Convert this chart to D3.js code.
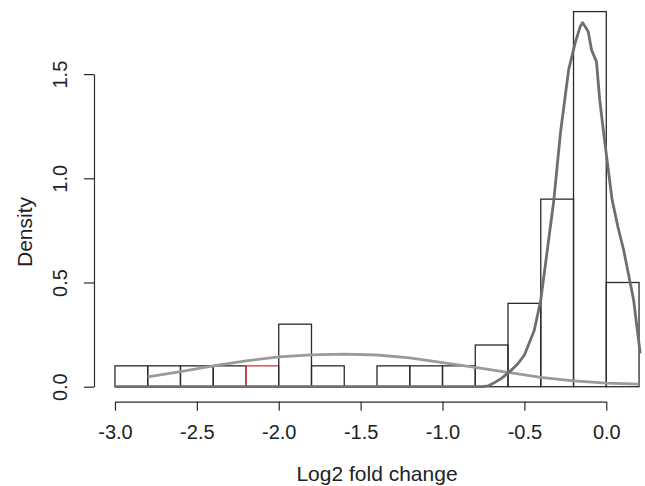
<!DOCTYPE html>
<html>
<head>
<meta charset="utf-8">
<title>Log2 fold change density</title>
<style>
  body { margin: 0; background: #fff; }
  text { font-family: "Liberation Sans", Arial, Helvetica, sans-serif; fill: #222; }
</style>
</head>
<body>
<script src="https://cdn.jsdelivr.net/npm/d3@7/dist/d3.min.js"></script>
<script>
  // histogram bins (left edges, width 0.2) and densities
  var binStarts = [-3.0, -2.8, -2.6, -2.4, -2.2, -2.0, -1.8, -1.6, -1.4, -1.2, -1.0, -0.8, -0.6, -0.4, -0.2, 0.0];
  var binDensity = [0.1, 0.1, 0.1, 0.1, 0.1, 0.3, 0.1, 0, 0.1, 0.1, 0.1, 0.2, 0.4, 0.9, 1.8, 0.5];
  var highlightBin = -2.2;
  var binWidth = 0.2;

  // broad fitted curve
  var broadX = [-2.8, -2.6, -2.4, -2.2, -2.0, -1.8, -1.6, -1.4, -1.2, -1.0, -0.8, -0.6, -0.4, -0.2, 0.0, 0.2];
  var broadY = [0.047, 0.072, 0.100, 0.124, 0.143, 0.153, 0.156, 0.152, 0.138, 0.116, 0.093, 0.069, 0.045, 0.028, 0.017, 0.012];

  // narrow fitted curve
  var narrowX = [-3.0, -0.76, -0.72, -0.69, -0.64, -0.59, -0.54, -0.50, -0.44, -0.40, -0.36, -0.32, -0.28, -0.23, -0.19, -0.16, -0.145, -0.13, -0.11, -0.09, -0.06, -0.04, -0.01, 0.035, 0.07, 0.106, 0.167, 0.207];
  var narrowY = [0, 0, 0.004, 0.016, 0.04, 0.072, 0.11, 0.152, 0.27, 0.416, 0.656, 0.896, 1.217, 1.52, 1.65, 1.727, 1.747, 1.73, 1.703, 1.616, 1.56, 1.376, 1.18, 0.90, 0.77, 0.656, 0.416, 0.16];

  var xTicks = [-3.0, -2.5, -2.0, -1.5, -1.0, -0.5, 0.0];
  var yTicks = [0.0, 0.5, 1.0, 1.5];

  var width = 645, height = 486;

  // R style usr ranges (4% padding)
  var x = d3.scaleLinear().domain([-3.128, 0.328]).range([94, 660]);
  var y = d3.scaleLinear().domain([-0.072, 1.872]).range([401.7, -3.4]);

  var svg = d3.select("body").append("svg")
      .attr("width", width)
      .attr("height", height);

  svg.append("rect").attr("width", width).attr("height", height).attr("fill", "#fff");

  // bars
  var bins = binStarts.map(function (s, i) { return {x0: s, d: binDensity[i]}; });
  svg.append("g").attr("id", "bars")
    .selectAll("rect")
    .data(bins)
    .enter().append("rect")
    .attr("x", function (d) { return x(d.x0); })
    .attr("width", function (d) { return x(d.x0 + binWidth) - x(d.x0); })
    .attr("y", function (d) { return y(d.d); })
    .attr("height", function (d) { return y(0) - y(d.d); })
    .attr("fill", "none")
    .attr("stroke", function (d) { return Math.abs(d.x0 - highlightBin) < 1e-9 ? "#e0303a" : "#2a2a2a"; })
    .attr("stroke-width", 1.3);

  var line = d3.line()
    .x(function (d) { return x(d[0]); })
    .y(function (d) { return y(d[1]); });

  svg.append("path")
    .datum(broadX.map(function (v, i) { return [v, broadY[i]]; }))
    .attr("d", line)
    .attr("fill", "none")
    .attr("stroke", "#9a9a9a")
    .attr("stroke-width", 2.8);

  svg.append("path")
    .datum(narrowX.map(function (v, i) { return [v, narrowY[i]]; }))
    .attr("d", line)
    .attr("fill", "none")
    .attr("stroke", "#6e6e6e")
    .attr("stroke-width", 2.8)
    .attr("stroke-linejoin", "round");

  // x axis
  var xa = d3.scaleLinear().domain([-3, 0]).range([x(-3), x(0)]);
  var gx = svg.append("g")
    .attr("transform", "translate(0," + y(-0.072) + ")")
    .call(d3.axisBottom(xa).tickValues(xTicks).tickSize(9).tickSizeOuter(0).tickPadding(14)
      .tickFormat(function (d) { return d.toFixed(1); }));
  gx.selectAll("path, line").attr("stroke", "#2a2a2a").attr("stroke-width", 1.2);
  gx.selectAll("text").attr("font-size", "20px").attr("fill", "#222")
    .style("font-family", "'Liberation Sans', Arial, sans-serif");

  // y axis
  var ya = d3.scaleLinear().domain([0, 1.5]).range([y(0), y(1.5)]);
  var gy = svg.append("g")
    .attr("transform", "translate(" + x(-3.128) + ",0)")
    .call(d3.axisLeft(ya).tickValues(yTicks).tickSize(10).tickSizeOuter(0)
      .tickFormat(function (d) { return d.toFixed(1); }));
  gy.selectAll("path, line").attr("stroke", "#2a2a2a").attr("stroke-width", 1.2);
  gy.selectAll("text")
    .attr("transform", "rotate(-90)")
    .attr("x", 0)
    .attr("y", -27)
    .attr("dy", 0)
    .attr("text-anchor", "middle")
    .attr("font-size", "20px")
    .attr("fill", "#222")
    .style("font-family", "'Liberation Sans', Arial, sans-serif");

  // axis labels
  svg.append("text")
    .attr("x", x(-1.4))
    .attr("y", 481)
    .attr("text-anchor", "middle")
    .attr("font-size", "21px")
    .text("Log2 fold change");

  svg.append("text")
    .attr("transform", "translate(32,232) rotate(-90)")
    .attr("text-anchor", "middle")
    .attr("font-size", "21px")
    .text("Density");
</script>
</body>
</html>
